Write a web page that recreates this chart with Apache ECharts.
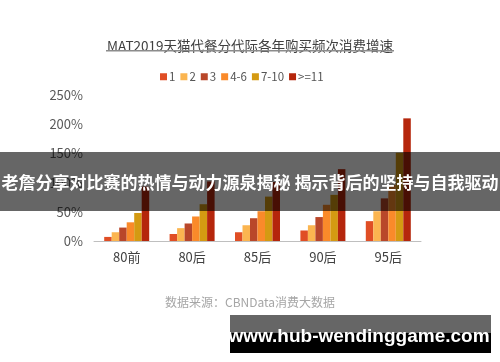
<!DOCTYPE html>
<html>
<head>
<meta charset="utf-8">
<script src="https://cdn.jsdelivr.net/npm/echarts@6/dist/echarts.min.js"></script>
<style>
html,body{margin:0;padding:0;background:#fff;}
#c{width:500px;height:362px;}
</style>
</head>
<body>
<div id="c"></div>
<script>
var categories = ['80前', '80后', '85后', '90后', '95后'];
var seriesNames = ['1', '2', '3', '4-6', '7-10', '>=11'];
var s1 = [7, 12, 15, 18, 34];
var s2 = [15, 22, 27, 27, 51];
var s3 = [23, 30, 39, 41, 73];
var s4 = [32, 42, 51, 62, 96];
var s5 = [48, 63, 76, 79, 151];
var s6 = [93, 102, 101, 123, 210];
var yTicks = [0, 50, 100, 150, 200, 250];

var colors = ['#E04E25', '#FBB550', '#B9472A', '#FA8A2A', '#D49A12', '#B5260C'];
var values = [s1, s2, s3, s4, s5, s6];
var FONT = '"Noto Sans CJK SC", "Noto Sans", sans-serif';

var chart = echarts.init(document.getElementById('c'), null, {renderer: 'canvas'});
var series = seriesNames.map(function (n, i) {
  return {
    name: n, type: 'bar', data: values[i],
    barWidth: 7.5, barGap: '0%',
    itemStyle: {color: colors[i]}
  };
});

chart.setOption({
  animation: false,
  color: colors,
  title: {
    text: 'MAT2019天猫代餐分代际各年购买频次消费增速',
    left: 'center', top: 34,
    textStyle: {fontFamily: FONT, fontSize: 13.5, fontWeight: 'normal', color: '#404040'}
  },
  legend: {
    data: seriesNames, top: 66, left: 155,
    itemWidth: 7, itemHeight: 7, itemGap: 5,
    icon: 'rect',
    textStyle: {fontFamily: FONT, fontSize: 11.5, color: '#555', padding: [0, 0, 0, -3]}
  },
  grid: {left: 94, right: 79, top: 95, bottom: 121},
  xAxis: {
    type: 'category', data: categories,
    axisLine: {lineStyle: {color: '#BFBFBF', width: 1}},
    axisTick: {show: false},
    axisLabel: {fontFamily: FONT, fontSize: 13, color: '#404040', margin: 10}
  },
  yAxis: {
    type: 'value', min: 0, max: 250, interval: 50,
    splitLine: {show: false},
    axisLine: {show: false},
    axisTick: {show: false},
    axisLabel: {
      fontFamily: FONT, fontSize: 13, color: '#595959', margin: 11,
      formatter: function (v) { return yTicks.indexOf(v) >= 0 ? v + '%' : ''; }
    }
  },
  series: series,
  graphic: [
    {type: 'rect', shape: {x: 106, y: 50, width: 288, height: 1.5}, style: {fill: '#8C8C8C'}, z: 10},
    {type: 'text', left: 'center', top: 296,
      style: {text: '数据来源：CBNData消费大数据', font: '12px ' + FONT, fill: '#A6A6A6'}},
    {type: 'rect', shape: {x: 0, y: 152, width: 500, height: 59}, style: {fill: 'rgba(0,0,0,0.6)'}, z: 100},
    {type: 'text', x: 250, y: 183, z: 101,
      style: {text: '老詹分享对比赛的热情与动力源泉揭秘 揭示背后的坚持与自我驱动',
        font: 'bold 17px ' + FONT, fill: '#fff', textAlign: 'center', textVerticalAlign: 'middle'}},
    {type: 'rect', shape: {x: 230, y: 315, width: 261, height: 18}, style: {fill: '#666'}, z: 100},
    {type: 'rect', shape: {x: 230, y: 333, width: 261, height: 20}, style: {fill: '#000'}, z: 100},
    {type: 'text', x: 359, y: 337, z: 101,
      style: {text: 'www.hub-wendinggame.com', font: 'bold 19px "Liberation Sans", sans-serif',
        fill: '#fff', textAlign: 'center', textVerticalAlign: 'middle'}}
  ]
});
</script>
</body>
</html>
